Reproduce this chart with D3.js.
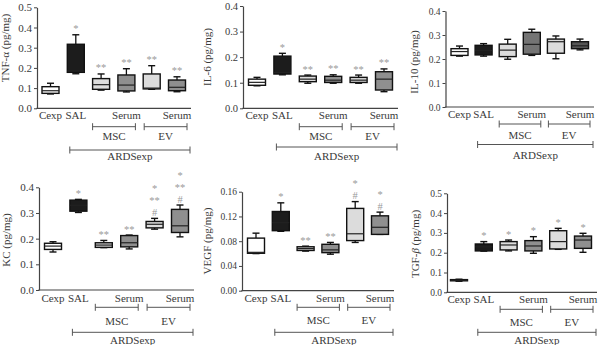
<!DOCTYPE html>
<html><head><meta charset="utf-8">
<script src="https://cdn.jsdelivr.net/npm/d3@7"></script>
<style>
body{margin:0;background:#fff}
svg{display:block}
text{font-family:"Liberation Serif","DejaVu Serif",serif;fill:#3a3a3a}
</style>
</head><body>
<svg id="c" width="600" height="345"></svg>
<script>
// ---------- data ----------
const groups = ["Cexp","SAL","MSC","MSC Serum","EV","EV Serum"];
const xLabels = ["Cexp","SAL","","Serum","","Serum"];
// each box: [min, q1, median, q3, max]
const tnfBoxes = [[0.071,0.074,0.087,0.107,0.124],[0.171,0.178,0.185,0.317,0.364],[0.090,0.094,0.117,0.147,0.170],[0.081,0.086,0.115,0.165,0.196],[0.094,0.096,0.100,0.170,0.211],[0.082,0.087,0.104,0.140,0.156]];
const il6Boxes = [[0.088,0.090,0.1015,0.114,0.121],[0.131,0.134,0.140,0.204,0.215],[0.098,0.104,0.114,0.126,0.130],[0.098,0.101,0.110,0.125,0.131],[0.098,0.101,0.110,0.121,0.130],[0.065,0.0715,0.114,0.143,0.154]];
const il10Boxes = [[0.212,0.215,0.231,0.243,0.254],[0.212,0.217,0.235,0.257,0.264],[0.199,0.210,0.237,0.262,0.282],[0.215,0.220,0.261,0.311,0.324],[0.201,0.224,0.272,0.283,0.296],[0.238,0.243,0.255,0.272,0.283]];
const kcBoxes = [[0.148,0.158,0.171,0.182,0.188],[0.302,0.307,0.330,0.350,0.353],[0.165,0.166,0.175,0.184,0.193],[0.160,0.168,0.184,0.212,0.214],[0.237,0.242,0.256,0.267,0.279],[0.207,0.224,0.250,0.314,0.331]];
const vegfBoxes = [[0.060,0.0605,0.062,0.085,0.093],[0.096,0.097,0.110,0.128,0.142],[0.064,0.065,0.068,0.071,0.072],[0.059,0.0615,0.066,0.075,0.078],[0.078,0.081,0.092,0.133,0.144],[0.091,0.091,0.1025,0.121,0.127]];
const tgfBoxes = [[0.056,0.058,0.061,0.064,0.066],[0.208,0.209,0.230,0.244,0.256],[0.209,0.214,0.239,0.256,0.264],[0.197,0.209,0.234,0.261,0.281],[0.217,0.219,0.256,0.311,0.323],[0.202,0.222,0.264,0.284,0.298]];

const tnfMarks = [[],["*"],["**"],["**"],["**"],["**"]];
const il6Marks = [[],["*"],["**"],["**"],["**"],["**"]];
const il10Marks = [[],[],[],[],[],[]];
const kcMarks = [[],["*"],["**"],["**"],["*","**","#"],["*","**","#"]];
const vegfMarks = [[],["*"],["**"],["**"],["*","#"],["*","#"]];
const tgfMarks = [[],["*"],["*"],["*"],["*"],["*"]];

const ticks05 = [0,0.1,0.2,0.3,0.4,0.5];
const ticks04 = [0,0.1,0.2,0.3,0.4];
const ticksVegf = [0,0.04,0.08,0.12,0.16];

const fillsDefault = ["#ffffff","#1c1c1c","#dcdcdc","#8f8f8f","#dcdcdc","#8f8f8f"];
const fillsIL10 = ["#ffffff","#1c1c1c","#dcdcdc","#747474","#dcdcdc","#555555"];

// ---------- layout ----------
const panels = [
 {label:[["TNF-α",false],[" (pg/mg)",false]], boxes:tnfBoxes, marks:tnfMarks, domain:[0,0.5], ticks:ticks05, fmt:".1f", fills:fillsDefault,
  ax:37, top:7.3, bot:108.3, c0:50.5, c5:177, labX:8.5, labY:48, tickFont:11,
  labBase:119, brY:126.7, brLab:140, ardsY:150, ardsLab:160},
 {label:[["IL-6",false],[" (pg/mg)",false]], boxes:il6Boxes, marks:il6Marks, domain:[0,0.4], ticks:ticks04, fmt:".1f", fills:fillsDefault,
  ax:243, top:6, bot:108.3, c0:257, c5:384, labX:210.5, labY:57, tickFont:10.5,
  labBase:119, brY:126.7, brLab:139.5, ardsY:147, ardsLab:160},
 {label:[["IL-10",false],[" (pg/mg)",false]], boxes:il10Boxes, marks:il10Marks, domain:[0,0.4], ticks:ticks04, fmt:".1f", fills:fillsIL10,
  ax:445.5, top:11, bot:107, c0:459.5, c5:580, labX:417.5, labY:62, tickFont:9.5,
  labBase:118, brY:124, brLab:139.3, ardsY:144.5, ardsLab:158.5},
 {label:[["KC",false],[" (pg/mg)",false]], boxes:kcBoxes, marks:kcMarks, domain:[0,0.4], ticks:ticks04, fmt:".1f", fills:fillsDefault,
  ax:39, top:187.3, bot:290, c0:53, c5:180, labX:9.5, labY:240, tickFont:11,
  labBase:301.5, brY:307.3, brLab:325, ardsY:332.3, ardsLab:344},
 {label:[["VEGF",false],[" (pg/mg)",false]], boxes:vegfBoxes, marks:vegfMarks, domain:[0,0.16], ticks:ticksVegf, fmt:".2f", fills:fillsDefault,
  ax:242, top:191.7, bot:290.7, c0:256, c5:380, labX:210.5, labY:241, tickFont:9.5,
  labBase:301.5, brY:307.3, brLab:324, ardsY:332.3, ardsLab:344},
 {label:[["TGF-",false],["β",true],[" (pg/mg)",false]], boxes:tgfBoxes, marks:tgfMarks, domain:[0,0.5], ticks:ticks05, fmt:".1f", fills:fillsDefault,
  ax:447, top:193.3, bot:292.3, c0:459, c5:583, labX:418.5, labY:244, tickFont:9.5,
  labBase:303, brY:309.3, brLab:326, ardsY:332.3, ardsLab:344}
];

const svg = d3.select("#c");
const boxW = 17, capW = 7, markFont = 10.5, markStep = 12;

panels.forEach(p => {
  const g = svg.append("g");
  const y = d3.scaleLinear().domain(p.domain).range([p.bot, p.top]);
  const x = d3.scalePoint().domain(groups).range([p.c0, p.c5]).padding(0);

  // y axis
  const axis = d3.axisLeft(y).tickValues(p.ticks).tickFormat(d3.format(p.fmt)).tickSize(3).tickSizeOuter(0).tickPadding(2);
  const ag = g.append("g").attr("transform", `translate(${p.ax},0)`).call(axis);
  ag.attr("font-family",'"Liberation Serif","DejaVu Serif",serif');
  ag.select(".domain").attr("stroke","#444").attr("stroke-width",1.2);
  ag.selectAll(".tick line").attr("stroke","#444").attr("stroke-width",1);
  ag.selectAll(".tick text").attr("font-size", p.tickFont).attr("fill","#3a3a3a");

  // x baseline
  g.append("line").attr("x1", p.ax - 0.6).attr("x2", x(groups[5]) + 14)
    .attr("y1", y(0)).attr("y2", y(0)).attr("stroke","#444").attr("stroke-width",1.2);

  // y label
  const yl = g.append("text")
    .attr("transform", `translate(${p.labX},${p.labY}) rotate(-90)`)
    .attr("text-anchor","middle").attr("font-size",11);
  p.label.forEach(([t, it]) => yl.append("tspan").text(t).attr("font-style", it ? "italic" : "normal"));

  // boxes
  const bg = g.selectAll(".bx").data(p.boxes).join("g").attr("class","bx")
    .attr("transform", (d,i) => `translate(${x(groups[i])},0)`);
  bg.append("line").attr("x1",0).attr("x2",0).attr("y1", d => y(d[4])).attr("y2", d => y(d[3]))
    .attr("stroke","#111").attr("stroke-width",1.3);
  bg.append("line").attr("x1",0).attr("x2",0).attr("y1", d => y(d[1])).attr("y2", d => y(d[0]))
    .attr("stroke","#111").attr("stroke-width",1.3);
  bg.append("line").attr("x1",-capW/2).attr("x2",capW/2).attr("y1", d => y(d[4])).attr("y2", d => y(d[4]))
    .attr("stroke","#111").attr("stroke-width",1.4);
  bg.append("line").attr("x1",-capW/2).attr("x2",capW/2).attr("y1", d => y(d[0])).attr("y2", d => y(d[0]))
    .attr("stroke","#111").attr("stroke-width",1.4);
  bg.append("rect").attr("x",-boxW/2).attr("width",boxW)
    .attr("y", d => y(d[3])).attr("height", d => Math.max(1, y(d[1]) - y(d[3])))
    .attr("fill", (d,i) => p.fills[i]).attr("stroke","#111").attr("stroke-width",1.4);
  bg.append("line").attr("x1",-boxW/2).attr("x2",boxW/2).attr("y1", d => y(d[2])).attr("y2", d => y(d[2]))
    .attr("stroke","#222").attr("stroke-width",1.2);

  // significance marks, stacked upward from the whisker top
  bg.each(function(d,i){
    const lines = p.marks[i];
    const n = lines.length;
    lines.forEach((s,k) => {
      d3.select(this).append("text").attr("text-anchor","middle").attr("font-size",markFont)
        .style("fill","#9a9a9a")
        .attr("y", y(d[4]) - 2.5 - (n-1-k)*markStep).text(s);
    });
  });

  // x labels
  g.selectAll(".xl").data(xLabels).join("text").attr("class","xl")
    .attr("x", (d,i) => x(groups[i])).attr("y", p.labBase)
    .attr("text-anchor","middle").attr("font-size",11).text(d => d);

  // brackets
  const brackets = [
    {a:x("MSC")-8.5, b:x("MSC Serum")+9, yy:p.brY, t:"MSC", ty:p.brLab},
    {a:x("EV")-7.5, b:x("EV Serum")+10, yy:p.brY, t:"EV", ty:p.brLab},
    {a:x("SAL")-6, b:x("EV Serum")+13, yy:p.ardsY, t:"ARDSexp", ty:p.ardsLab}
  ];
  brackets.forEach(br => {
    g.append("path").attr("d", `M${br.a},${br.yy-3.5}V${br.yy+3.5}M${br.a},${br.yy}H${br.b}M${br.b},${br.yy-3.5}V${br.yy+3.5}`)
      .attr("stroke","#555").attr("stroke-width",1).attr("fill","none");
    g.append("text").attr("x",(br.a+br.b)/2).attr("y",br.ty).attr("text-anchor","middle")
      .attr("font-size",11).text(br.t);
  });
});
</script>
</body></html>
